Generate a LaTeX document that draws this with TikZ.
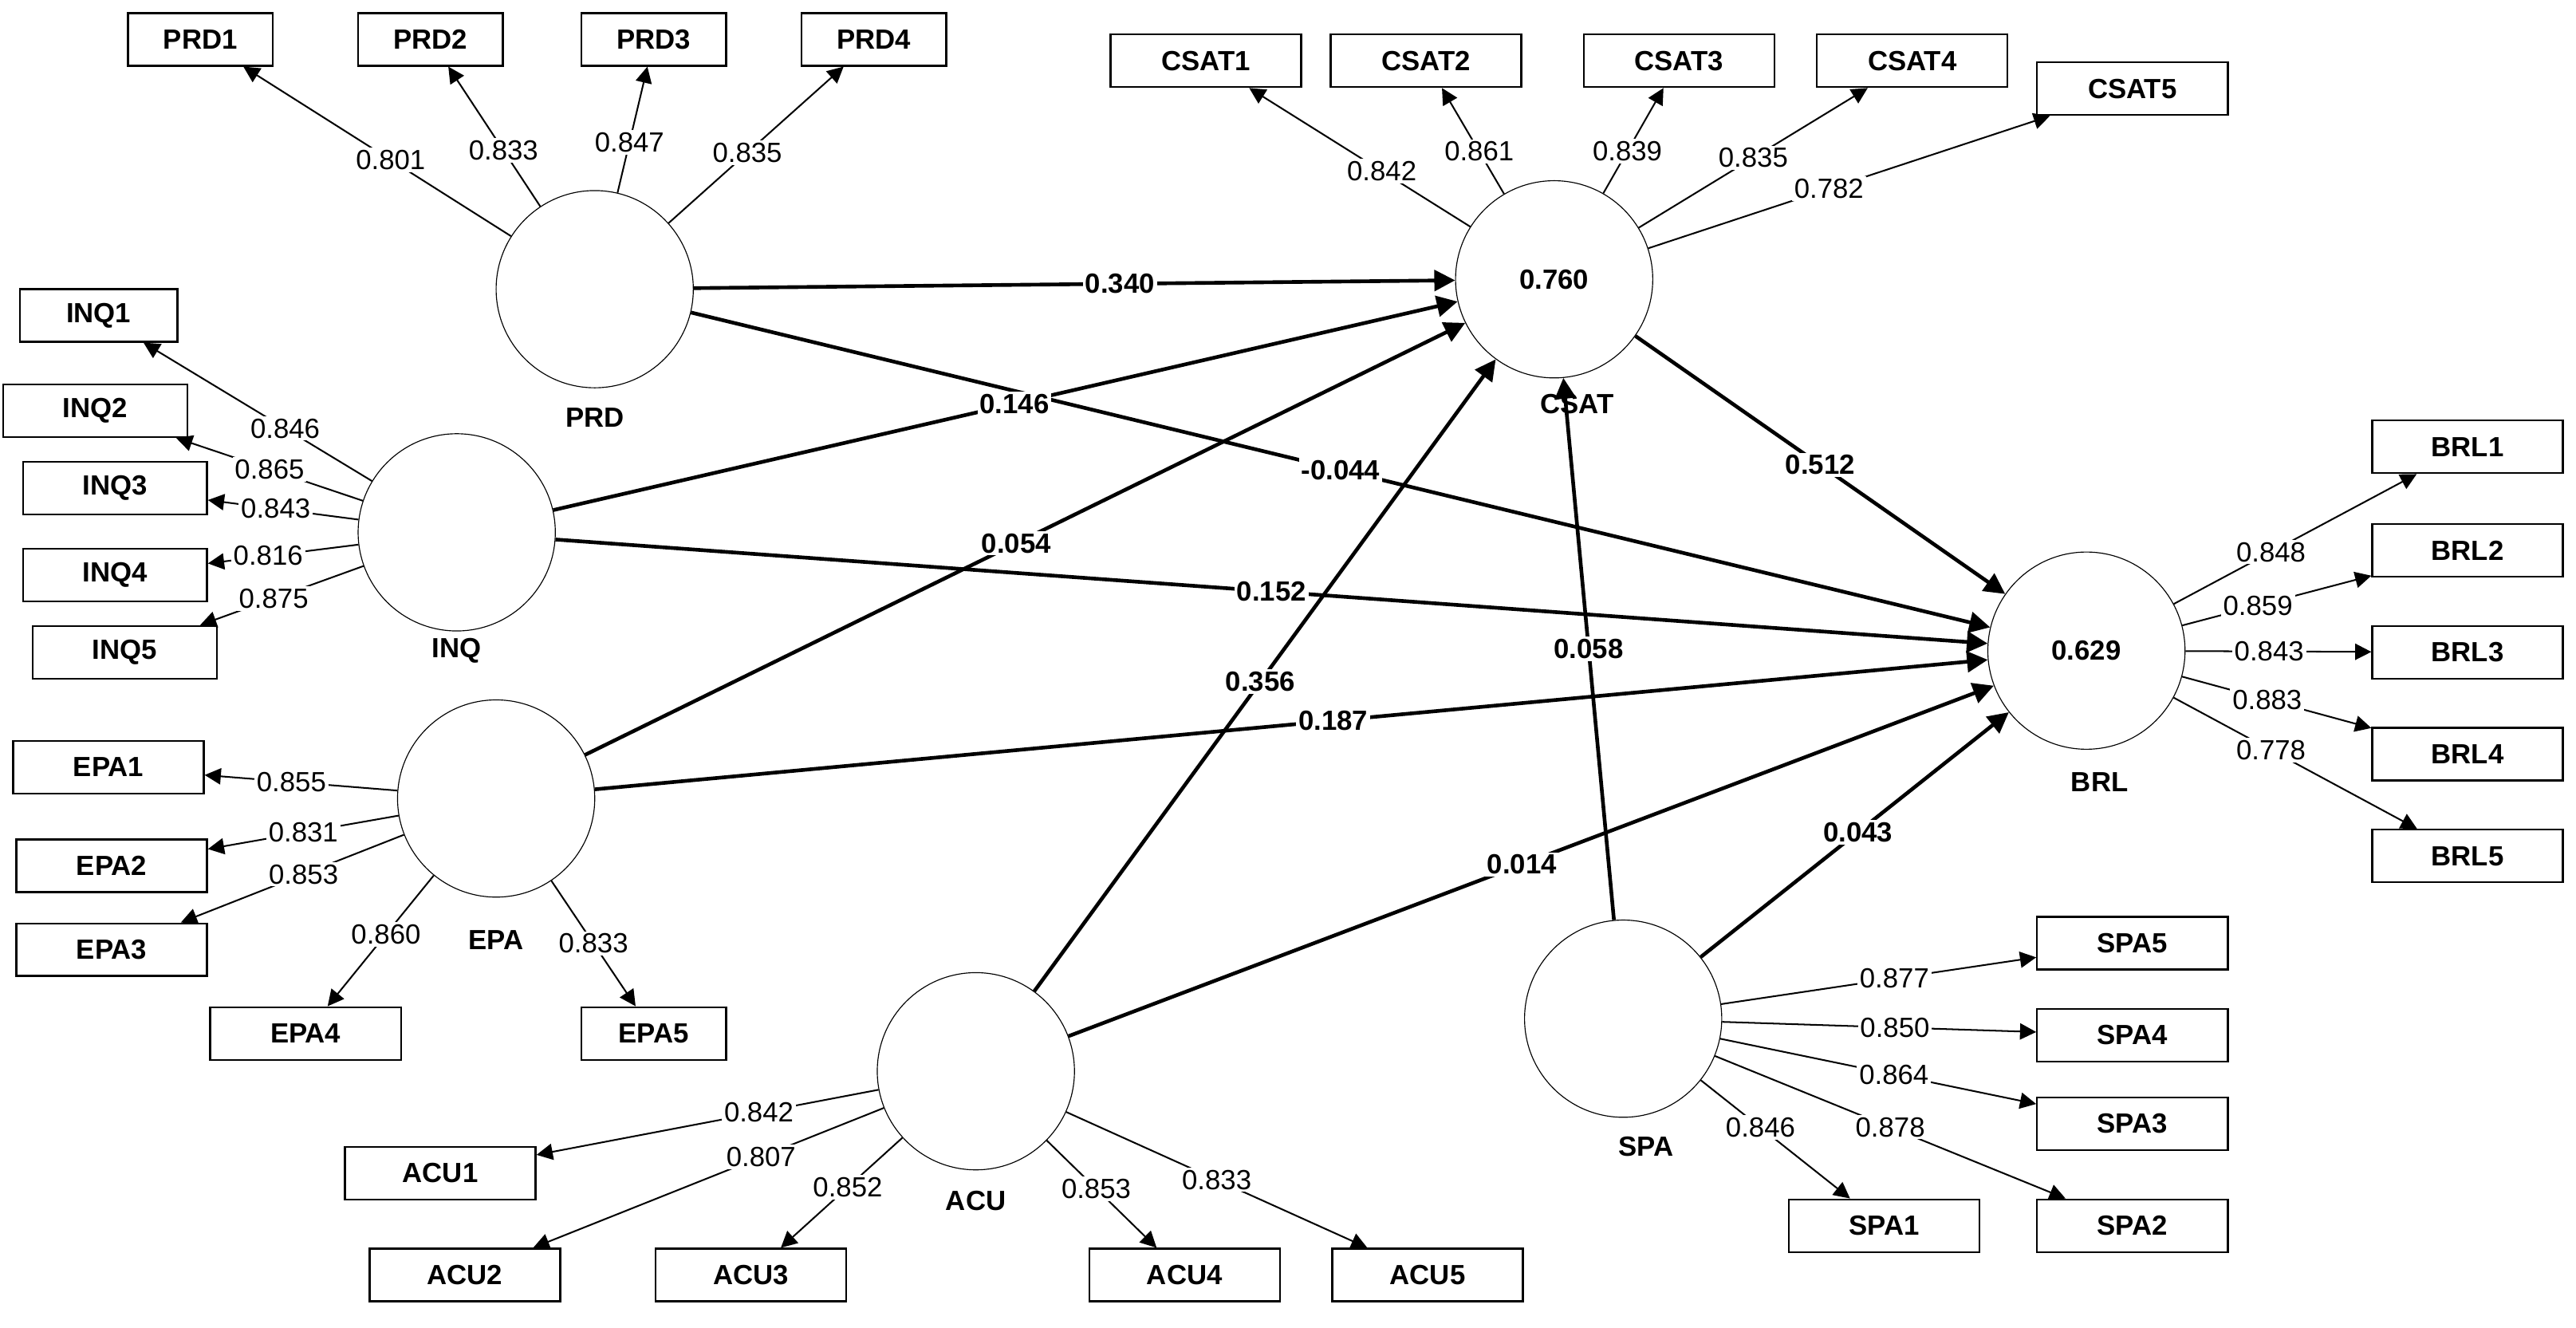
\documentclass[tikz,border=0pt]{standalone}
\usepackage{fontspec}
\setmainfont{Liberation Sans}
\usetikzlibrary{arrows.meta}
\tikzset{
  ind/.style={draw,thick,minimum width=2.2cm,minimum height=0.8cm,font=\bfseries\large,inner sep=1pt},
  lat/.style={draw,circle,minimum size=3cm,font=\bfseries\large},
  load/.style={-{Triangle[length=7pt,width=7pt]},line width=0.7pt},
  path/.style={-{Triangle[length=9pt,width=9pt]},line width=1.6pt},
  lbl/.style={fill=white,inner sep=1pt,font=\large},
  plbl/.style={fill=white,inner sep=1pt,font=\bfseries\large}
}
\begin{document}
\begin{tikzpicture}[x=0.025cm,y=-0.025cm]
        \useasboundingbox (0,0) rectangle (1568,808);
        % latent variables
        \node[lat] (PRD) at (362,176) {};
        \node[lat] (INQ) at (278,324) {};
        \node[lat] (EPA) at (302,486) {};
        \node[lat] (ACU) at (594,652) {};
        \node[lat] (CSAT) at (946,170) {0.760};
        \node[lat] (BRL) at (1270,396) {0.629};
        \node[lat] (SPA) at (988,620) {};
        \node[font=\bfseries\large] at (362,254) {PRD};
        \node[font=\bfseries\large] at (278,396) {INQ};
        \node[font=\bfseries\large] at (302,572) {EPA};
        \node[font=\bfseries\large] at (594,731) {ACU};
        \node[font=\bfseries\large] at (960,246) {CSAT};
        \node[font=\bfseries\large] at (1278,476) {BRL};
        \node[font=\bfseries\large] at (1002,698) {SPA};
        % indicators
        \node[ind] (PRD1) at (122,24) {PRD1};
        \node[ind] (PRD2) at (262,24) {PRD2};
        \node[ind] (PRD3) at (398,24) {PRD3};
        \node[ind] (PRD4) at (532,24) {PRD4};
        \node[ind,minimum width=2.9cm] (CSAT1) at (734,37) {CSAT1};
        \node[ind,minimum width=2.9cm] (CSAT2) at (868,37) {CSAT2};
        \node[ind,minimum width=2.9cm] (CSAT3) at (1022,37) {CSAT3};
        \node[ind,minimum width=2.9cm] (CSAT4) at (1164,37) {CSAT4};
        \node[ind,minimum width=2.9cm] (CSAT5) at (1298,54) {CSAT5};
        \node[ind,minimum width=2.4cm] (INQ1) at (60,192) {INQ1};
        \node[ind,minimum width=2.8cm] (INQ2) at (58,250) {INQ2};
        \node[ind,minimum width=2.8cm] (INQ3) at (70,297) {INQ3};
        \node[ind,minimum width=2.8cm] (INQ4) at (70,350) {INQ4};
        \node[ind,minimum width=2.8cm] (INQ5) at (76,397) {INQ5};
        \node[ind,minimum width=2.9cm] (EPA1) at (66,467) {EPA1};
        \node[ind,minimum width=2.9cm] (EPA2) at (68,527) {EPA2};
        \node[ind,minimum width=2.9cm] (EPA3) at (68,578) {EPA3};
        \node[ind,minimum width=2.9cm] (EPA4) at (186,629) {EPA4};
        \node[ind,minimum width=2.2cm] (EPA5) at (398,629) {EPA5};
        \node[ind,minimum width=2.9cm] (ACU1) at (268,714) {ACU1};
        \node[ind,minimum width=2.9cm] (ACU2) at (283,776) {ACU2};
        \node[ind,minimum width=2.9cm] (ACU3) at (457,776) {ACU3};
        \node[ind,minimum width=2.9cm] (ACU4) at (721,776) {ACU4};
        \node[ind,minimum width=2.9cm] (ACU5) at (869,776) {ACU5};
        \node[ind,minimum width=2.9cm] (SPA5) at (1298,574) {SPA5};
        \node[ind,minimum width=2.9cm] (SPA4) at (1298,630) {SPA4};
        \node[ind,minimum width=2.9cm] (SPA3) at (1298,684) {SPA3};
        \node[ind,minimum width=2.9cm] (SPA2) at (1298,746) {SPA2};
        \node[ind,minimum width=2.9cm] (SPA1) at (1147,746) {SPA1};
        \node[ind,minimum width=2.9cm] (BRL1) at (1502,272) {BRL1};
        \node[ind,minimum width=2.9cm] (BRL2) at (1502,335) {BRL2};
        \node[ind,minimum width=2.9cm] (BRL3) at (1502,397) {BRL3};
        \node[ind,minimum width=2.9cm] (BRL4) at (1502,459) {BRL4};
        \node[ind,minimum width=2.9cm] (BRL5) at (1502,521) {BRL5};
        % outer loadings
        \foreach \lv/\mv/\val/\p in {PRD/PRD1/0.801/0.45, PRD/PRD2/0.833/0.4, PRD/PRD3/0.847/0.4, PRD/PRD4/0.835/0.45,
            CSAT/CSAT1/0.842/0.4, CSAT/CSAT2/0.861/0.4, CSAT/CSAT3/0.839/0.4, CSAT/CSAT4/0.835/0.5, CSAT/CSAT5/0.782/0.45,
            INQ/INQ1/0.846/0.38, INQ/INQ2/0.865/0.5, INQ/INQ3/0.843/0.55, INQ/INQ4/0.816/0.6, INQ/INQ5/0.875/0.55,
            EPA/EPA1/0.855/0.55, EPA/EPA2/0.831/0.5, EPA/EPA3/0.853/0.45, EPA/EPA4/0.860/0.45, EPA/EPA5/0.833/0.5,
            ACU/ACU1/0.842/0.35, ACU/ACU2/0.807/0.35, ACU/ACU3/0.852/0.45, ACU/ACU4/0.853/0.45, ACU/ACU5/0.833/0.5,
            SPA/SPA5/0.877/0.55, SPA/SPA4/0.850/0.55, SPA/SPA3/0.864/0.55, SPA/SPA2/0.878/0.5, SPA/SPA1/0.846/0.4,
            BRL/BRL1/0.848/0.4, BRL/BRL2/0.859/0.4, BRL/BRL3/0.843/0.45, BRL/BRL4/0.883/0.45, BRL/BRL5/0.778/0.4}
            \draw[load] (\lv) -- node[lbl,pos=\p] {\val} (\mv);
        % inner model
        \draw[path] (PRD) -- node[plbl,pos=0.56] {0.340} (CSAT);
        \draw[path] (PRD) -- node[plbl,pos=0.5] {-0.044} (BRL);
        \draw[path] (INQ) -- node[plbl,pos=0.51] {0.146} (CSAT);
        \draw[path] (INQ) -- node[plbl,pos=0.5] {0.152} (BRL);
        \draw[path] (EPA) -- node[plbl,pos=0.49] {0.054} (CSAT);
        \draw[path] (EPA) -- node[plbl,pos=0.53] {0.187} (BRL);
        \draw[path] (ACU) -- node[plbl,pos=0.49] {0.356} (CSAT);
        \draw[path] (ACU) -- node[plbl,pos=0.49] {0.014} (BRL);
        \draw[path] (SPA) -- node[plbl,pos=0.5] {0.058} (CSAT);
        \draw[path] (SPA) -- node[plbl,pos=0.51] {0.043} (BRL);
        \draw[path] (CSAT) -- node[plbl,pos=0.5] {0.512} (BRL);
\end{tikzpicture}
\end{document}
